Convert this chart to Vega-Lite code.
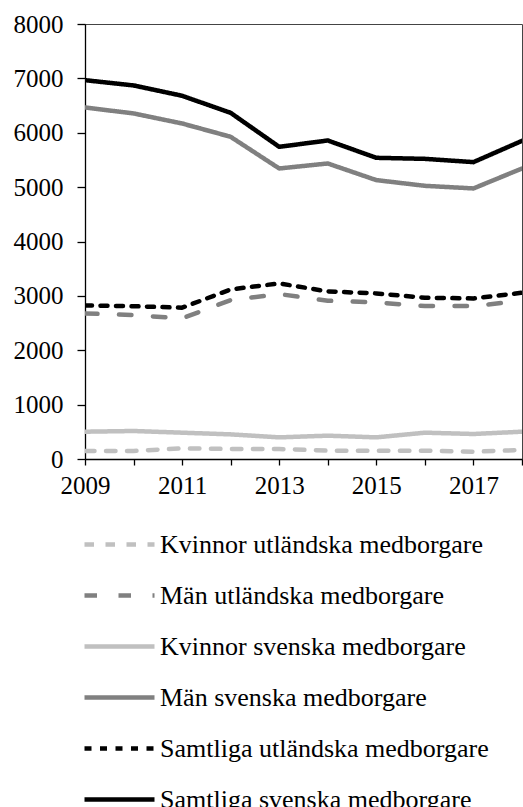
{
  "$schema": "https://vega.github.io/schema/vega-lite/v6.json",
  "width": 437,
  "height": 435,
  "autosize": {"type": "none"},
  "padding": {"left": 85, "top": 24, "right": 1, "bottom": 348},
  "background": "white",
  "config": {
    "font": "Liberation Serif, serif",
    "view": {"stroke": "#444444", "strokeWidth": 1},
    "axis": {"labelFont": "Liberation Serif, serif", "labelFontSize": 25, "labelColor": "#000000", "domainColor": "#000000", "tickColor": "#000000", "grid": false, "title": null},
    "legend": {"labelFont": "Liberation Serif, serif", "labelFontSize": 26, "labelColor": "#000000"}
  },
  "data": {
    "values": [
      {"year": 2009, "series": "Kvinnor utländska medborgare", "value": 147},
      {"year": 2010, "series": "Kvinnor utländska medborgare", "value": 147},
      {"year": 2011, "series": "Kvinnor utländska medborgare", "value": 196},
      {"year": 2012, "series": "Kvinnor utländska medborgare", "value": 184},
      {"year": 2013, "series": "Kvinnor utländska medborgare", "value": 184},
      {"year": 2014, "series": "Kvinnor utländska medborgare", "value": 153},
      {"year": 2015, "series": "Kvinnor utländska medborgare", "value": 153},
      {"year": 2016, "series": "Kvinnor utländska medborgare", "value": 153},
      {"year": 2017, "series": "Kvinnor utländska medborgare", "value": 135},
      {"year": 2018, "series": "Kvinnor utländska medborgare", "value": 165},
      {"year": 2009, "series": "Män utländska medborgare", "value": 2678},
      {"year": 2010, "series": "Män utländska medborgare", "value": 2647},
      {"year": 2011, "series": "Män utländska medborgare", "value": 2586},
      {"year": 2012, "series": "Män utländska medborgare", "value": 2923},
      {"year": 2013, "series": "Män utländska medborgare", "value": 3033},
      {"year": 2014, "series": "Män utländska medborgare", "value": 2911},
      {"year": 2015, "series": "Män utländska medborgare", "value": 2880},
      {"year": 2016, "series": "Män utländska medborgare", "value": 2812},
      {"year": 2017, "series": "Män utländska medborgare", "value": 2812},
      {"year": 2018, "series": "Män utländska medborgare", "value": 2911},
      {"year": 2009, "series": "Kvinnor  svenska medborgare", "value": 502},
      {"year": 2010, "series": "Kvinnor  svenska medborgare", "value": 515},
      {"year": 2011, "series": "Kvinnor  svenska medborgare", "value": 484},
      {"year": 2012, "series": "Kvinnor  svenska medborgare", "value": 453},
      {"year": 2013, "series": "Kvinnor  svenska medborgare", "value": 398},
      {"year": 2014, "series": "Kvinnor  svenska medborgare", "value": 429},
      {"year": 2015, "series": "Kvinnor  svenska medborgare", "value": 398},
      {"year": 2016, "series": "Kvinnor  svenska medborgare", "value": 484},
      {"year": 2017, "series": "Kvinnor  svenska medborgare", "value": 460},
      {"year": 2018, "series": "Kvinnor  svenska medborgare", "value": 502},
      {"year": 2009, "series": "Män svenska medborgare", "value": 6465},
      {"year": 2010, "series": "Män svenska medborgare", "value": 6355},
      {"year": 2011, "series": "Män svenska medborgare", "value": 6170},
      {"year": 2012, "series": "Män svenska medborgare", "value": 5925},
      {"year": 2013, "series": "Män svenska medborgare", "value": 5343},
      {"year": 2014, "series": "Män svenska medborgare", "value": 5435},
      {"year": 2015, "series": "Män svenska medborgare", "value": 5129},
      {"year": 2016, "series": "Män svenska medborgare", "value": 5024},
      {"year": 2017, "series": "Män svenska medborgare", "value": 4976},
      {"year": 2018, "series": "Män svenska medborgare", "value": 5343},
      {"year": 2009, "series": "Samtliga utländska medborgare", "value": 2825},
      {"year": 2010, "series": "Samtliga utländska medborgare", "value": 2810},
      {"year": 2011, "series": "Samtliga utländska medborgare", "value": 2782},
      {"year": 2012, "series": "Samtliga utländska medborgare", "value": 3119},
      {"year": 2013, "series": "Samtliga utländska medborgare", "value": 3229},
      {"year": 2014, "series": "Samtliga utländska medborgare", "value": 3082},
      {"year": 2015, "series": "Samtliga utländska medborgare", "value": 3045},
      {"year": 2016, "series": "Samtliga utländska medborgare", "value": 2966},
      {"year": 2017, "series": "Samtliga utländska medborgare", "value": 2953},
      {"year": 2018, "series": "Samtliga utländska medborgare", "value": 3058},
      {"year": 2009, "series": "Samtliga svenska medborgare", "value": 6967},
      {"year": 2010, "series": "Samtliga svenska medborgare", "value": 6870},
      {"year": 2011, "series": "Samtliga svenska medborgare", "value": 6680},
      {"year": 2012, "series": "Samtliga svenska medborgare", "value": 6366},
      {"year": 2013, "series": "Samtliga svenska medborgare", "value": 5741},
      {"year": 2014, "series": "Samtliga svenska medborgare", "value": 5858},
      {"year": 2015, "series": "Samtliga svenska medborgare", "value": 5539},
      {"year": 2016, "series": "Samtliga svenska medborgare", "value": 5520},
      {"year": 2017, "series": "Samtliga svenska medborgare", "value": 5460},
      {"year": 2018, "series": "Samtliga svenska medborgare", "value": 5851}
    ]
  },
  "mark": {"type": "line", "strokeCap": "round", "strokeJoin": "round", "clip": true},
  "encoding": {
    "x": {
      "field": "year", "type": "quantitative",
      "scale": {"domain": [2009, 2018], "nice": false, "zero": false},
      "axis": {"values": [2009, 2010, 2011, 2012, 2013, 2014, 2015, 2016, 2017, 2018], "labelExpr": "datum.value % 2 == 1 ? datum.value : ''", "tickSize": 6, "labelPadding": 8, "labelOverlap": false, "labelFlush": false, "domainWidth": 1.3, "tickWidth": 1.3}
    },
    "y": {
      "field": "value", "type": "quantitative",
      "scale": {"domain": [0, 8000], "nice": false},
      "axis": {"values": [0, 1000, 2000, 3000, 4000, 5000, 6000, 7000, 8000], "format": "d", "tickSize": 8, "labelPadding": 14, "domainWidth": 1.3, "tickWidth": 1.3}
    },
    "color": {
      "field": "series", "type": "nominal",
      "scale": {
        "domain": ["Kvinnor utländska medborgare", "Män utländska medborgare", "Kvinnor  svenska medborgare", "Män svenska medborgare", "Samtliga utländska medborgare", "Samtliga svenska medborgare"],
        "range": ["#c0c0c0", "#808080", "#c0c0c0", "#808080", "#000000", "#000000"]
      },
      "legend": {"orient": "none", "legendX": -3, "legendY": 483, "title": null, "padding": 0, "rowPadding": -21, "symbolSize": 4900, "symbolType": "stroke", "labelOffset": 3, "labelLimit": 500}
    },
    "strokeDash": {
      "field": "series", "type": "nominal",
      "scale": {
        "domain": ["Kvinnor utländska medborgare", "Män utländska medborgare", "Kvinnor  svenska medborgare", "Män svenska medborgare", "Samtliga utländska medborgare", "Samtliga svenska medborgare"],
        "range": [[9.5, 11.5], [12.5, 21.5], [1, 0], [1, 0], [7, 8.5], [1, 0]]
      }
    },
    "strokeWidth": {
      "field": "series", "type": "nominal",
      "scale": {
        "domain": ["Kvinnor utländska medborgare", "Män utländska medborgare", "Kvinnor  svenska medborgare", "Män svenska medborgare", "Samtliga utländska medborgare", "Samtliga svenska medborgare"],
        "range": [4.5, 4.5, 4.5, 4.5, 3.5, 3]
      }
    }
  }
}
